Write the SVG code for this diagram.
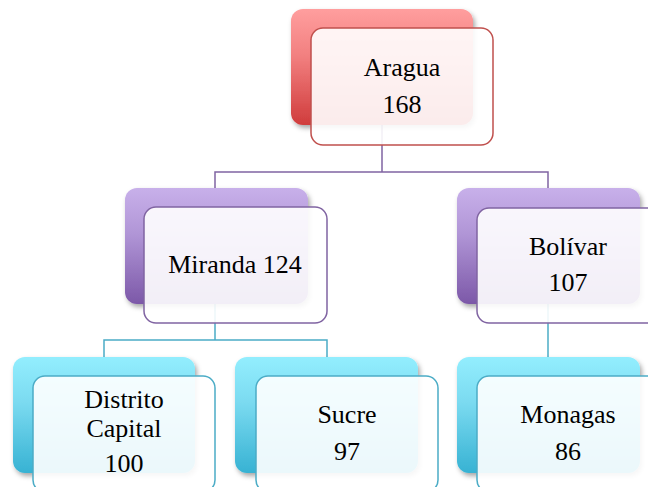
<svg xmlns="http://www.w3.org/2000/svg" width="648" height="487" viewBox="0 0 648 487">
<defs>
<linearGradient id="gRed" x1="0" y1="0" x2="0" y2="1"><stop offset="0" stop-color="#FF9E9E"/><stop offset="0.4" stop-color="#F28080"/><stop offset="1" stop-color="#D03C3C"/></linearGradient>
<linearGradient id="gPur" x1="0" y1="0" x2="0" y2="1"><stop offset="0" stop-color="#C8B0EA"/><stop offset="0.4" stop-color="#B095D6"/><stop offset="1" stop-color="#7C58A8"/></linearGradient>
<linearGradient id="gCya" x1="0" y1="0" x2="0" y2="1"><stop offset="0" stop-color="#93EEFE"/><stop offset="0.4" stop-color="#7ADAF0"/><stop offset="1" stop-color="#37B2D3"/></linearGradient>
<filter id="sh" x="-20%" y="-20%" width="140%" height="150%"><feDropShadow dx="2" dy="3" stdDeviation="2.5" flood-color="#000" flood-opacity="0.35"/></filter>
</defs>
<style>
.back{filter:url(#sh)}
.front{fill:#fff;fill-opacity:0.9;stroke-width:1.5}
.r .front{stroke:#C0504D}
.p .front{stroke:#8064A2}
.c .front{stroke:#4BACC6}
text{font-family:"Liberation Serif","Times New Roman",serif;font-size:26px;fill:#000;text-anchor:middle}
.lp{fill:none;stroke:#8064A2;stroke-width:1.5}
.lc{fill:none;stroke:#4BACC6;stroke-width:1.5}
</style>
<g id="connectors">
<path class="lp" d="M382 125V172M215 188V172H548V188"/>
<path class="lc" d="M215 304V340M104 357V340H327V357"/>
<path class="lc" d="M548 304V357"/>
</g>
<g id="aragua" class="r">
<rect class="back" x="291" y="9" width="182" height="116" rx="12" fill="url(#gRed)"/>
<rect class="front" x="311" y="28" width="182" height="117" rx="12"/>
<text x="402" y="76">Aragua</text>
<text x="402" y="113">168</text>
</g>
<g id="miranda" class="p">
<rect class="back" x="125" y="188" width="183" height="116" rx="12" fill="url(#gPur)"/>
<rect class="front" x="144" y="207" width="183" height="116" rx="12"/>
<text x="235" y="273">Miranda 124</text>
</g>
<g id="bolivar" class="p">
<rect class="back" x="457" y="188" width="183" height="116" rx="12" fill="url(#gPur)"/>
<rect class="front" x="477" y="208" width="183" height="115" rx="12"/>
<text x="568" y="255">Bolívar</text>
<text x="568" y="291">107</text>
</g>
<g id="distrito" class="c">
<rect class="back" x="13" y="357" width="182" height="116" rx="12" fill="url(#gCya)"/>
<rect class="front" x="33" y="376" width="182" height="116" rx="12"/>
<text x="124" y="408">Distrito</text>
<text x="124" y="437">Capital</text>
<text x="124" y="472">100</text>
</g>
<g id="sucre" class="c">
<rect class="back" x="235" y="357" width="183" height="116" rx="12" fill="url(#gCya)"/>
<rect class="front" x="256" y="376" width="182" height="116" rx="12"/>
<text x="347" y="423">Sucre</text>
<text x="347" y="460">97</text>
</g>
<g id="monagas" class="c">
<rect class="back" x="457" y="357" width="183" height="116" rx="12" fill="url(#gCya)"/>
<rect class="front" x="477" y="376" width="183" height="116" rx="12"/>
<text x="568" y="423">Monagas</text>
<text x="568" y="460">86</text>
</g>
</svg>
